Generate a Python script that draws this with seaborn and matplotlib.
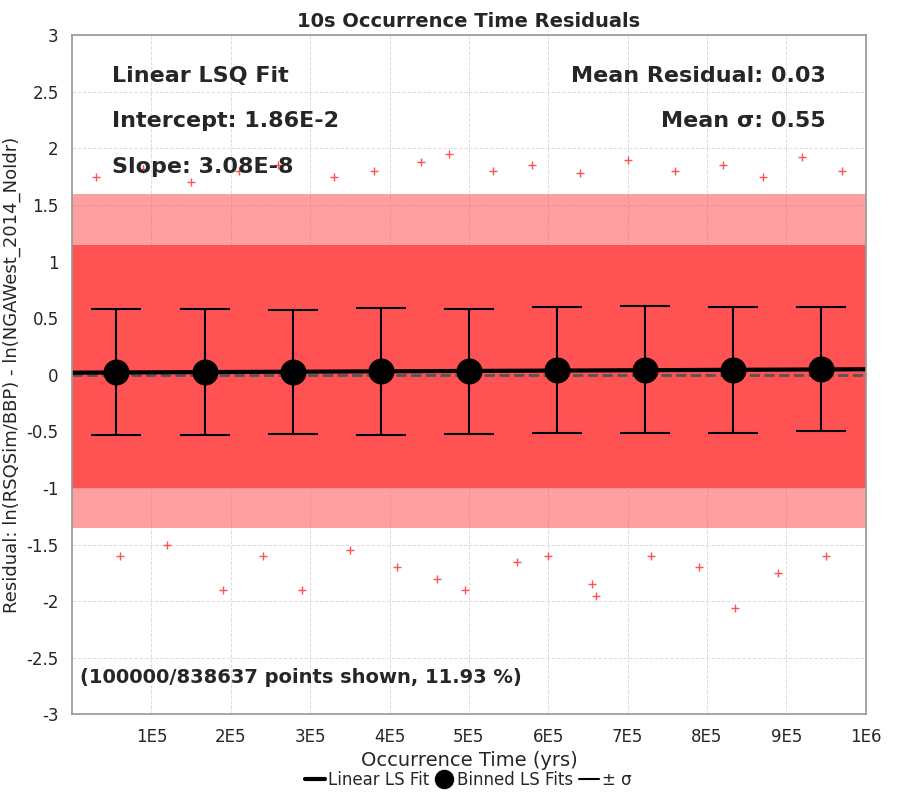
import matplotlib
matplotlib.use("Agg")
import matplotlib.pyplot as plt
import seaborn as sns
import pandas as pd

sns.set_theme(style="whitegrid")
plt.rcParams['font.family'] = ['DejaVu Sans']

# Binned fits
bin_x = [5.56e4, 1.67e5, 2.78e5, 3.89e5, 5.0e5, 6.11e5, 7.22e5, 8.33e5, 9.44e5]
bin_y = [0.025, 0.028, 0.027, 0.030, 0.033, 0.040, 0.045, 0.043, 0.050]
bin_lo = [-0.53, -0.53, -0.52, -0.53, -0.52, -0.51, -0.51, -0.51, -0.50]
bin_hi = [0.58, 0.58, 0.57, 0.59, 0.58, 0.60, 0.61, 0.60, 0.60]
fit_x = [0, 1e6]
fit_y = [0.019, 0.049]
# Residual cloud envelope (dense core and sparse fringe)
env_x = [0, 1e6]
core_lo, core_hi = [-1.0, -1.0], [1.15, 1.15]
fringe_lo, fringe_hi = [-1.35, -1.35], [1.6, 1.6]
# Scattered outlier points
out_x = [0.3e5, 0.9e5, 1.5e5, 2.1e5, 2.6e5, 3.3e5, 3.8e5, 4.4e5, 4.75e5, 5.3e5, 5.8e5, 6.4e5,
         7.0e5, 7.6e5, 8.2e5, 8.7e5, 9.2e5, 9.7e5, 0.6e5, 1.2e5, 1.9e5, 2.4e5, 2.9e5, 3.5e5,
         4.1e5, 4.6e5, 4.95e5, 5.6e5, 6.0e5, 6.55e5, 6.6e5, 7.3e5, 7.9e5, 8.35e5, 8.9e5, 9.5e5]
out_y = [1.75, 1.82, 1.7, 1.8, 1.85, 1.75, 1.8, 1.88, 1.95, 1.8, 1.85, 1.78,
         1.9, 1.8, 1.85, 1.75, 1.92, 1.8, -1.6, -1.5, -1.9, -1.6, -1.9, -1.55,
         -1.7, -1.8, -1.9, -1.65, -1.6, -1.85, -1.95, -1.6, -1.7, -2.06, -1.75, -1.6]

red = "#FF5252"
fig, ax = plt.subplots(figsize=(9, 8), dpi=100)
fig.subplots_adjust(left=0.08, right=0.962, top=0.956, bottom=0.107)
ax.fill_between(env_x, fringe_lo, fringe_hi, color=red, alpha=0.55, lw=0)
ax.fill_between(env_x, core_lo, core_hi, color=red, lw=0)
sns.scatterplot(x=out_x, y=out_y, marker="+", color=red, s=30, linewidth=1, ax=ax)
ax.plot(env_x, [0, 0], ls="--", color="#555555", lw=2)
sns.lineplot(x=fit_x, y=fit_y, color="black", lw=3, ax=ax)
err = [[y - l for y, l in zip(bin_y, bin_lo)], [h - y for y, h in zip(bin_y, bin_hi)]]
ax.errorbar(bin_x, bin_y, yerr=err, fmt="none", ecolor="black", capsize=18, lw=1.5, capthick=1.5)
sns.scatterplot(x=bin_x, y=bin_y, color="black", s=300, edgecolor="black", ax=ax, zorder=5)

ax.set_xlim(0, 1e6)
ax.set_ylim(-3, 3)
ax.set_xticks([1e5*i for i in range(1, 11)])
ax.set_xticklabels([f"{i}E5" for i in range(1, 10)] + ["1E6"])
ax.set_yticks([-3 + 0.5*i for i in range(13)])
ax.set_yticklabels(["-3", "-2.5", "-2", "-1.5", "-1", "-0.5", "0", "0.5", "1", "1.5", "2", "2.5", "3"])
ax.tick_params(labelsize=12)
ax.grid(True, color="#dddddd", ls="--", lw=0.7)
ax.set_facecolor("white")
for s in ax.spines.values():
    s.set_color("#999999")
ax.set_xlabel("Occurrence Time (yrs)", fontsize=14)
ax.set_ylabel("Residual: ln(RSQSim/BBP) - ln(NGAWest_2014_NoIdr)", fontsize=13)
ax.set_title("10s Occurrence Time Residuals", fontsize=14, fontweight="bold")
kw = dict(transform=ax.transAxes, fontsize=16, fontweight="bold")
ax.text(0.05, 0.955, "Linear LSQ Fit", va="top", **kw)
ax.text(0.05, 0.888, "Intercept: 1.86E-2", va="top", **kw)
ax.text(0.05, 0.821, "Slope: 3.08E-8", va="top", **kw)
ax.text(0.95, 0.955, "Mean Residual: 0.03", va="top", ha="right", **kw)
ax.text(0.95, 0.888, "Mean σ: 0.55", va="top", ha="right", **kw)
ax.text(0.01, 0.04, "(100000/838637 points shown, 11.93 %)", transform=ax.transAxes,
        fontsize=14, fontweight="bold", va="bottom")

from matplotlib.lines import Line2D
h = [Line2D([], [], color="black", lw=3),
     Line2D([], [], marker="o", color="black", ls="none", markersize=13),
     Line2D([], [], color="black", lw=1.5)]
fig.legend(h, ["Linear LS Fit", "Binned LS Fits", "± σ"], loc="lower center", ncol=3,
           frameon=False, fontsize=12, bbox_to_anchor=(0.52, -0.005), handlelength=1.2,
           columnspacing=0.3, handletextpad=0.2)
fig.savefig("out.png")
